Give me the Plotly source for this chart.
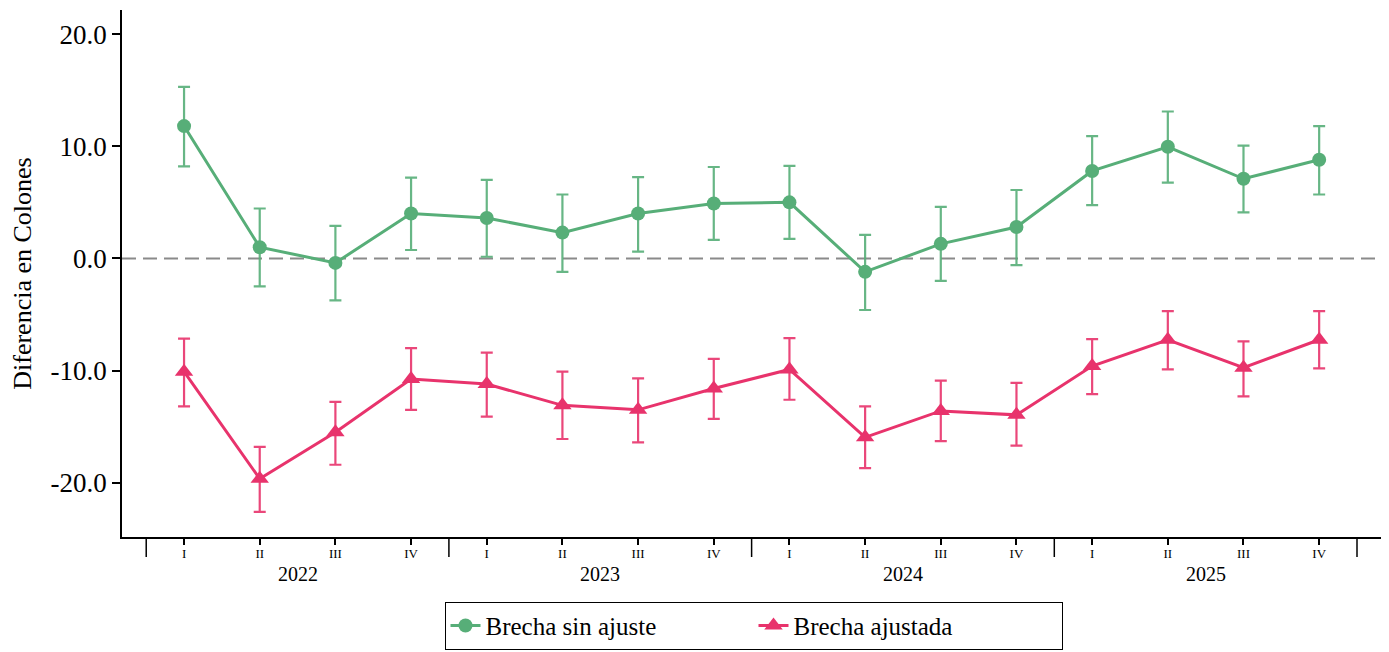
import plotly.graph_objects as go

years = ["2022"] * 4 + ["2023"] * 4 + ["2024"] * 4 + ["2025"] * 4
quarters = ["I", "II", "III", "IV"] * 4

sin_ajuste = [11.8, 1.0, -0.4, 4.0, 3.6, 2.3, 4.0, 4.9, 5.0, -1.2, 1.3, 2.8, 7.8, 9.95, 7.1, 8.8]
sin_ajuste_hi = [15.3, 4.45, 2.9, 7.2, 7.0, 5.7, 7.25, 8.15, 8.25, 2.1, 4.6, 6.1, 10.9, 13.1, 10.05, 11.8]
sin_ajuste_lo = [8.2, -2.5, -3.75, 0.75, 0.15, -1.2, 0.6, 1.65, 1.75, -4.6, -2.0, -0.6, 4.75, 6.75, 4.1, 5.7]

ajustada = [-10.1, -19.65, -15.5, -10.75, -11.2, -13.1, -13.5, -11.6, -9.9, -15.95, -13.6, -13.95, -9.6, -7.25, -9.75, -7.25]
ajustada_hi = [-7.15, -16.8, -12.8, -8.0, -8.4, -10.1, -10.7, -8.95, -7.1, -13.2, -10.9, -11.1, -7.2, -4.7, -7.4, -4.7]
ajustada_lo = [-13.2, -22.6, -18.4, -13.5, -14.1, -16.1, -16.4, -14.3, -12.6, -18.7, -16.3, -16.7, -12.1, -9.9, -12.3, -9.8]

ytick_vals = [20, 10, 0, -10, -20]
ytick_text = ["20.0", "10.0", "0.0", "-10.0", "-20.0"]

GREEN = "#57AE78"
RED = "#E8336C"
FONT = "Liberation Serif"

idx = list(range(len(quarters)))

fig = go.Figure()
fig.add_trace(go.Scatter(
    x=idx, y=sin_ajuste, name="Brecha sin ajuste", mode="lines+markers",
    line=dict(color=GREEN, width=3),
    marker=dict(symbol="circle", size=14, color=GREEN),
    error_y=dict(type="data", symmetric=False,
                 array=[h - v for h, v in zip(sin_ajuste_hi, sin_ajuste)],
                 arrayminus=[v - l for v, l in zip(sin_ajuste, sin_ajuste_lo)],
                 color="rgba(87,174,120,0.9)", thickness=2.2, width=6),
))
fig.add_trace(go.Scatter(
    x=idx, y=ajustada, name="Brecha ajustada", mode="lines+markers",
    line=dict(color=RED, width=3),
    marker=dict(symbol="triangle-up", size=16, color=RED),
    error_y=dict(type="data", symmetric=False,
                 array=[h - v for h, v in zip(ajustada_hi, ajustada)],
                 arrayminus=[v - l for v, l in zip(ajustada, ajustada_lo)],
                 color="rgba(232,51,108,0.9)", thickness=2.2, width=6),
))

# zero reference line
fig.add_shape(type="line", xref="paper", x0=0, x1=1, yref="y", y0=0, y1=0,
              line=dict(color="#8a8a8a", width=2, dash="14px,7px"), layer="below")

# year group labels and dividers (derived from the years list)
unique_years = list(dict.fromkeys(years))
bounds = [-0.5]
for yr in unique_years:
    pos = [i for i, y in enumerate(years) if y == yr]
    fig.add_annotation(x=sum(pos) / len(pos), xref="x", y=0, yref="paper",
                       yanchor="middle", yshift=-37, showarrow=False,
                       text=yr, font=dict(size=20, family=FONT, color="black"))
    bounds.append(pos[-1] + 0.5)
for b in bounds:
    fig.add_shape(type="line", xref="x", x0=b, x1=b, yref="paper",
                  ysizemode="pixel", yanchor=0, y0=0, y1=-20,
                  line=dict(color="black", width=1.5))

fig.update_layout(
    width=1381, height=644,
    margin=dict(l=114, r=4, t=2, b=112),
    paper_bgcolor="white", plot_bgcolor="white",
    font=dict(family=FONT, color="black"),
    showlegend=True,
    legend=dict(orientation="h", x=0.5, xanchor="center", y=-0.123, yanchor="top",
                bordercolor="black", borderwidth=1, bgcolor="white",
                font=dict(size=25, family=FONT), entrywidth=263),
    xaxis=dict(
        range=[-0.82, 15.87], automargin=False,
        tickvals=idx, ticktext=quarters,
        showline=True, linecolor="black", linewidth=1.5,
        ticks="outside", ticklen=6, tickcolor="black", tickwidth=1.5,
        ticklabelstandoff=-2,
        tickfont=dict(size=13, family=FONT, color="black"),
        showgrid=False, zeroline=False,
    ),
    yaxis=dict(
        range=[-24.84, 22.15], automargin=False,
        tickvals=ytick_vals, ticktext=ytick_text,
        showline=True, linecolor="black", linewidth=1.5,
        ticks="outside", ticklen=8, tickcolor="black", tickwidth=1.5,
        tickfont=dict(size=27, family=FONT, color="black"),
        showgrid=False, zeroline=False,
        title=dict(text="Diferencia en Colones", font=dict(size=26, family=FONT, color="black"), standoff=14),
    ),
)

fig.write_html("out.html")
